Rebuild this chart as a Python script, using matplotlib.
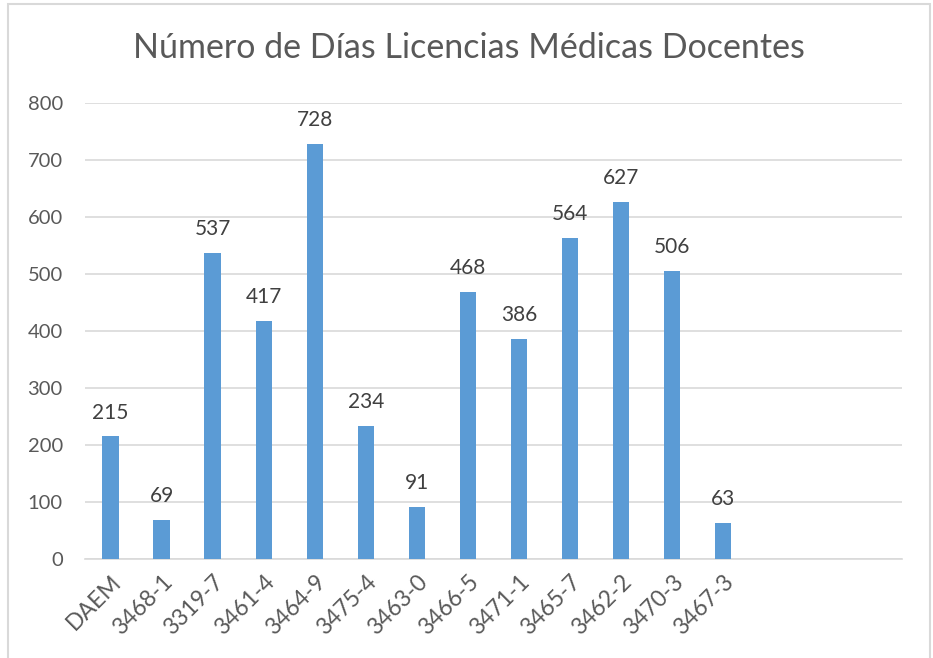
import matplotlib.pyplot as plt
from matplotlib.patches import Rectangle
import numpy as np

categories = ['DAEM', '3468-1', '3319-7', '3461-4', '3464-9', '3475-4', '3463-0',
              '3466-5', '3471-1', '3465-7', '3462-2', '3470-3', '3467-3']
values = [215, 69, 537, 417, 728, 234, 91, 468, 386, 564, 627, 506, 63]
y_ticks = [0, 100, 200, 300, 400, 500, 600, 700, 800]
n_slots = 16  # three empty slots on the right

plt.rcParams['font.family'] = ['Lato', 'DejaVu Sans']

fig = plt.figure(figsize=(9.33, 6.58), dpi=100)
ax = fig.add_axes([85 / 933, 1 - 559 / 658, (902 - 85) / 933, (559 - 103) / 658])

x = np.arange(len(categories))
bars = ax.bar(x, values, width=0.32, color='#5B9BD5', zorder=3)

for xi, v in zip(x, values):
    ax.annotate(str(v), (xi, v), xytext=(0, 10), textcoords='offset points',
                ha='center', va='bottom', fontsize=15, color='#404040')

ax.set_xlim(-0.5, n_slots - 0.5)
ax.set_ylim(0, 800)
ax.set_yticks(y_ticks)
ax.set_yticklabels([str(t) for t in y_ticks], fontsize=14.5, color='#595959')
ax.set_xticks(x)
ax.set_xticklabels(categories, rotation=45, ha='right', rotation_mode='anchor',
                   fontsize=16.5, color='#595959')
ax.tick_params(axis='y', length=0, pad=16)
ax.tick_params(axis='x', length=0, pad=9)
ax.grid(axis='y', color='#D9D9D9', linewidth=1.2, zorder=0)
for side in ['top', 'right', 'left']:
    ax.spines[side].set_visible(False)
ax.spines['bottom'].set_color('#D9D9D9')
ax.spines['bottom'].set_linewidth(1.2)

fig.text(0.503, 1 - 48 / 658, 'Número de Días Licencias Médicas Docentes',
         ha='center', va='center', fontsize=24.5, color='#595959')

fig.patches.append(Rectangle((8 / 933, -0.01), (930 - 8) / 933, 1 - 4 / 658 + 0.01,
                             transform=fig.transFigure, fill=False,
                             edgecolor='#D9D9D9', linewidth=1.5))

fig.savefig('out.png', dpi=100)
